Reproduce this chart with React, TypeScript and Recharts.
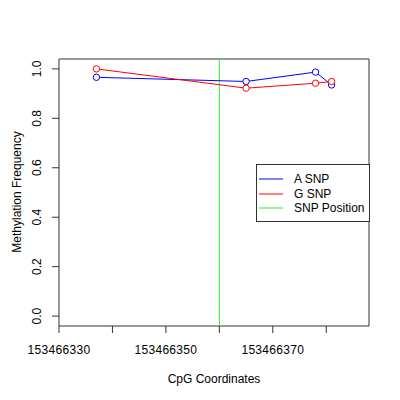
import React from "react";
import {
  LineChart,
  Line,
  XAxis,
  YAxis,
  ReferenceLine,
  ReferenceArea,
} from "recharts";

const positions = [153466337, 153466365, 153466378, 153466381];
const aSnp = [0.966, 0.949, 0.987, 0.935];
const gSnp = [1.0, 0.922, 0.942, 0.949];
const snpPosition = 153466360;
const xTicks = [153466330, 153466340, 153466350, 153466360, 153466370, 153466380];
const xLabelTicks = [153466330, 153466350, 153466370];
const yTicks = [0, 0.2, 0.4, 0.6, 0.8, 1.0];

const aData = positions.map((pos, i) => ({ pos, value: aSnp[i] }));
const gData = positions.map((pos, i) => ({ pos, value: gSnp[i] }));

const FONT = "'Liberation Sans', Arial, Helvetica, sans-serif";
const GREEN = "#33ee33";

function XTick(props: any) {
  const { x, y, payload } = props;
  if (!xLabelTicks.includes(Number(payload.value))) return null;
  return (
    <text
      x={x}
      y={y + 19}
      textAnchor="middle"
      fontSize={12}
      letterSpacing={0.3}
      fill="#000"
      fontFamily={FONT}
    >
      {payload.value}
    </text>
  );
}

function YTick(props: any) {
  const { x, y, payload } = props;
  return (
    <text
      x={x - 9}
      y={y}
      textAnchor="middle"
      fontSize={12}
      fill="#000"
      fontFamily={FONT}
      transform={`rotate(-90 ${x - 9} ${y})`}
    >
      {Number(payload.value).toFixed(1)}
    </text>
  );
}

const legendItems = [
  { label: "A SNP", color: "#0000ff" },
  { label: "G SNP", color: "#ff0000" },
  { label: "SNP Position", color: GREEN },
];

export default function App() {
  return (
    <div
      style={{
        position: "fixed",
        left: 0,
        top: 0,
        width: 400,
        height: 400,
        background: "#fff",
        fontFamily: FONT,
      }}
    >
      <LineChart
        width={400}
        height={400}
        margin={{ top: 59, right: 31, left: 9, bottom: 0 }}
      >
        <ReferenceArea
          x1={153466330}
          x2={153466388}
          y1={-0.04}
          y2={1.04}
          fill="none"
          stroke="#333"
          strokeWidth={1}
          ifOverflow="visible"
        />
        <XAxis
          type="number"
          dataKey="pos"
          domain={[153466330, 153466388]}
          ticks={xTicks}
          interval={0}
          tick={<XTick />}
          tickSize={7}
          tickLine={{ stroke: "#333" }}
          axisLine={false}
          height={74}
          allowDataOverflow
        />
        <YAxis
          type="number"
          dataKey="value"
          domain={[-0.04, 1.04]}
          ticks={yTicks}
          interval={0}
          tick={<YTick />}
          tickSize={7}
          tickLine={{ stroke: "#333" }}
          axisLine={false}
          width={50}
          allowDataOverflow
        />
        <ReferenceLine x={snpPosition} stroke={GREEN} strokeWidth={1} />
        <Line
          data={aData}
          dataKey="value"
          stroke="#0000ff"
          strokeWidth={1}
          dot={{ r: 3.2, stroke: "#0000ff", fill: "#fff", strokeWidth: 1 }}
          isAnimationActive={false}
        />
        <Line
          data={gData}
          dataKey="value"
          stroke="#ff0000"
          strokeWidth={1}
          dot={{ r: 3.2, stroke: "#ff0000", fill: "#fff", strokeWidth: 1 }}
          isAnimationActive={false}
        />
      </LineChart>

      <div
        style={{
          position: "absolute",
          left: 214,
          top: 372,
          transform: "translateX(-50%)",
          fontSize: 12,
          whiteSpace: "nowrap",
        }}
      >
        CpG Coordinates
      </div>
      <div
        style={{
          position: "absolute",
          left: 17,
          top: 192,
          transform: "translate(-50%, -50%) rotate(-90deg)",
          fontSize: 12,
          whiteSpace: "nowrap",
        }}
      >
        Methylation Frequency
      </div>

      <div
        style={{
          position: "absolute",
          left: 256,
          top: 164,
          width: 112,
          height: 56,
          border: "1px solid #333",
          background: "#fff",
        }}
      >
        {legendItems.map((item, i) => (
          <div
            key={item.label}
            style={{
              position: "absolute",
              left: 2,
              top: 7 + i * 14.5,
              height: 14,
              display: "flex",
              alignItems: "center",
              fontSize: 12,
              whiteSpace: "nowrap",
            }}
          >
            <svg width={24} height={14} style={{ display: "block" }}>
              <line x1={0} y1={7} x2={24} y2={7} stroke={item.color} strokeWidth={1} />
            </svg>
            <span style={{ marginLeft: 11 }}>{item.label}</span>
          </div>
        ))}
      </div>
    </div>
  );
}
